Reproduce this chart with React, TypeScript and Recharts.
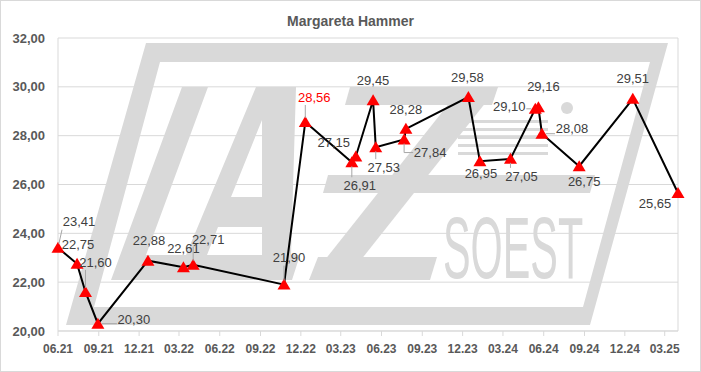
import React from "react";
import {
  LineChart,
  Line,
  XAxis,
  YAxis,
  CartesianGrid,
  LabelList,
  ReferenceLine,
} from "recharts";

// Messdaten (Datum, Wert)
const dates = [
  "2021-06-01", "2021-07-14", "2021-08-02", "2021-08-30", "2021-12-21",
  "2022-03-11", "2022-04-02", "2022-10-24", "2022-12-11", "2023-03-26",
  "2023-04-04", "2023-05-13", "2023-05-19", "2023-07-22", "2023-07-26",
  "2023-12-14", "2024-01-09", "2024-03-18", "2024-05-13", "2024-05-20",
  "2024-05-28", "2024-08-20", "2024-12-19", "2025-03-31",
];
const values = [
  23.41, 22.75, 21.6, 20.3, 22.88, 22.61, 22.71, 21.9, 28.56, 26.91, 27.15,
  29.45, 27.53, 27.84, 28.28, 29.58, 26.95, 27.05, 29.1, 29.16, 28.08, 26.75,
  29.51, 25.65,
];
const xTickDates = [
  "2021-06-01", "2021-09-01", "2021-12-01", "2022-03-01", "2022-06-01",
  "2022-09-01", "2022-12-01", "2023-03-01", "2023-06-01", "2023-09-01",
  "2023-12-01", "2024-03-01", "2024-06-01", "2024-09-01", "2024-12-01",
  "2025-03-01",
];
const yTicks = [20, 22, 24, 26, 28, 30, 32];
const axisStart = "2021-06-01";
const axisEnd = "2025-03-31";
const title = "Margareta Hammer";

// label placement: dx, dy from point to label centre, leader (0 none, 1 line, 2 elbow)
const labelPlacement: [number, number, number][] = [
  [21, -26, 1], [1, -20, 0], [10, -30, 1], [36, -4, 1], [1, -20, 0],
  [0, -19, 0], [15, -26, 1], [5, -27, 1], [9, -25, 1], [8, 23, 1],
  [-22, -14, 0], [0, -20, 0], [8, 20, 1], [26, 13, 2], [0, -20, 0],
  [-1, -20, 0], [1, 12, 0], [11, 17, 1], [-26, -2, 1], [5, -21, 0],
  [30, -5, 1], [5, 15, 0], [0, -20, 0], [-23, 10, 0],
];
const redLabels = [8];

const toDay = (s: string) =>
  Date.UTC(+s.slice(0, 4), +s.slice(5, 7) - 1, +s.slice(8, 10)) / 86400000;

const fmtDate = (d: number) => {
  const dt = new Date(d * 86400000);
  return `${String(dt.getUTCMonth() + 1).padStart(2, "0")}.${String(
    dt.getUTCFullYear() % 100
  ).padStart(2, "0")}`;
};
const fmtNum = (v: number) => v.toFixed(2).replace(".", ",");

const data = dates.map((d, i) => ({ t: toDay(d), v: values[i], i }));

const FONT = "'Liberation Sans', Arial, sans-serif";
const WM = "#d9d9d9";

const Triangle = (props: any) => {
  const { cx, cy } = props;
  if (cx == null || cy == null) return null;
  return (
    <polygon
      points={`${cx},${cy - 6} ${cx + 6.5},${cy + 5} ${cx - 6.5},${cy + 5}`}
      fill="#ff0000"
    />
  );
};

const renderLabel = (props: any) => {
  const { x, y, value } = props;
  const i = Number(value);
  const [dx, dy, leader] = labelPlacement[i];
  const cx = x + dx;
  const cy = y + dy;
  const hw = 17;
  const hh = 8;
  let lead = null;
  if (leader === 1) {
    const ex = Math.min(Math.max(x, cx - hw), cx + hw);
    const ey = Math.min(Math.max(y, cy - hh), cy + hh);
    const len = Math.hypot(ex - x, ey - y) || 1;
    const sx = x + ((ex - x) / len) * 4;
    const sy = y + ((ey - y) / len) * 4;
    lead = <line x1={sx} y1={sy} x2={ex} y2={ey} stroke="#a6a6a6" strokeWidth={1} />;
  } else if (leader === 2) {
    lead = (
      <polyline
        points={`${x},${y + 4} ${x},${cy} ${cx - hw},${cy}`}
        fill="none"
        stroke="#a6a6a6"
        strokeWidth={1}
      />
    );
  }
  return (
    <g>
      {lead}
      <text
        x={cx}
        y={cy}
        dy="0.36em"
        textAnchor="middle"
        fontSize={13}
        fontFamily={FONT}
        fill={redLabels.includes(i) ? "#ff0000" : "#404040"}
      >
        {fmtNum(values[i])}
      </text>
    </g>
  );
};

const Watermark = () => (
  <svg width={701} height={372} style={{ position: "absolute", left: 0, top: 0 }}>
    <path
      fillRule="evenodd"
      fill={WM}
      d="M146,43 L668,43 L590,325 L66,325 Z M160,62 L650,62 L583,307 L94,307 Z"
    />
    <path fill={WM} d="M182,87 L208,87 L146,255 L300,255 L292,280 L111,280 Z" />
    <path
      fillRule="evenodd"
      fill={WM}
      d="M256,87 L296,87 L291,255 L186,255 Z M262,120 L262,197 L231,197 Z M262,227 L262,255 L207,255 L218,227 Z"
    />
    <path fill={WM} d="M350,87 L498,87 L492,105 L345,105 Z" />
    <path fill={WM} d="M462,87 L498,87 L345,280 L309,280 Z" />
    <path fill={WM} d="M318,257 L437,257 L430,280 L309,280 Z" />
    <path fill={WM} d="M328,175 L595,175 L590,193 L323,193 Z" />
    {[120, 128, 136, 144, 152].map((yy) => (
      <rect key={yy} x={458} y={yy} width={90} height={3} fill={WM} />
    ))}
    <circle cx={567} cy={108} r={6} fill={WM} />
    <g transform="translate(443,278) scale(0.47,1)">
      <text x={0} y={0} fontSize={88} fontFamily={FONT} fill={WM}>
        SOEST
      </text>
    </g>
  </svg>
);

export default function App() {
  return (
    <div
      style={{
        position: "absolute",
        left: 0,
        top: 0,
        width: 701,
        height: 372,
        background: "#fff",
        fontFamily: FONT,
      }}
    >
      <Watermark />
      <div
        style={{
          position: "absolute",
          left: 0,
          top: 14,
          width: 701,
          textAlign: "center",
          fontSize: 14,
          lineHeight: "14px",
          fontWeight: "bold",
          color: "#595959",
        }}
      >
        {title}
      </div>
      <div style={{ position: "absolute", left: 0, top: 0 }}>
        <LineChart
          width={701}
          height={372}
          data={data}
          margin={{ top: 38, right: 23, bottom: 0, left: 0 }}
        >
          <CartesianGrid vertical={false} stroke="#d9d9d9" />
          <XAxis
            dataKey="t"
            type="number"
            domain={[toDay(axisStart), toDay(axisEnd)]}
            ticks={xTickDates.map(toDay)}
            tickFormatter={fmtDate}
            height={41}
            tickSize={5}
            tickMargin={8}
            axisLine={{ stroke: "#d9d9d9" }}
            tickLine={{ stroke: "#d9d9d9" }}
            tick={{ fontSize: 12, fontWeight: "bold", fill: "#595959", fontFamily: FONT }}
            interval={0}
          />
          <YAxis
            type="number"
            domain={[20, 32]}
            ticks={yTicks}
            tickFormatter={fmtNum}
            width={58}
            tickSize={0}
            tickMargin={13}
            axisLine={{ stroke: "#d9d9d9" }}
            tickLine={false}
            tick={{ fontSize: 13, fontWeight: "bold", fill: "#595959", fontFamily: FONT }}
          />
          <ReferenceLine x={toDay(axisEnd)} stroke="#d9d9d9" />
          <Line
            dataKey="v"
            type="linear"
            stroke="#000"
            strokeWidth={2}
            dot={<Triangle />}
            activeDot={false}
            isAnimationActive={false}
          >
            <LabelList dataKey="i" content={renderLabel} />
          </Line>
        </LineChart>
      </div>
      <div
        style={{
          position: "absolute",
          left: 0,
          top: 0,
          width: 701,
          height: 372,
          boxSizing: "border-box",
          border: "1px solid #d9d9d9",
          pointerEvents: "none",
        }}
      />
    </div>
  );
}
